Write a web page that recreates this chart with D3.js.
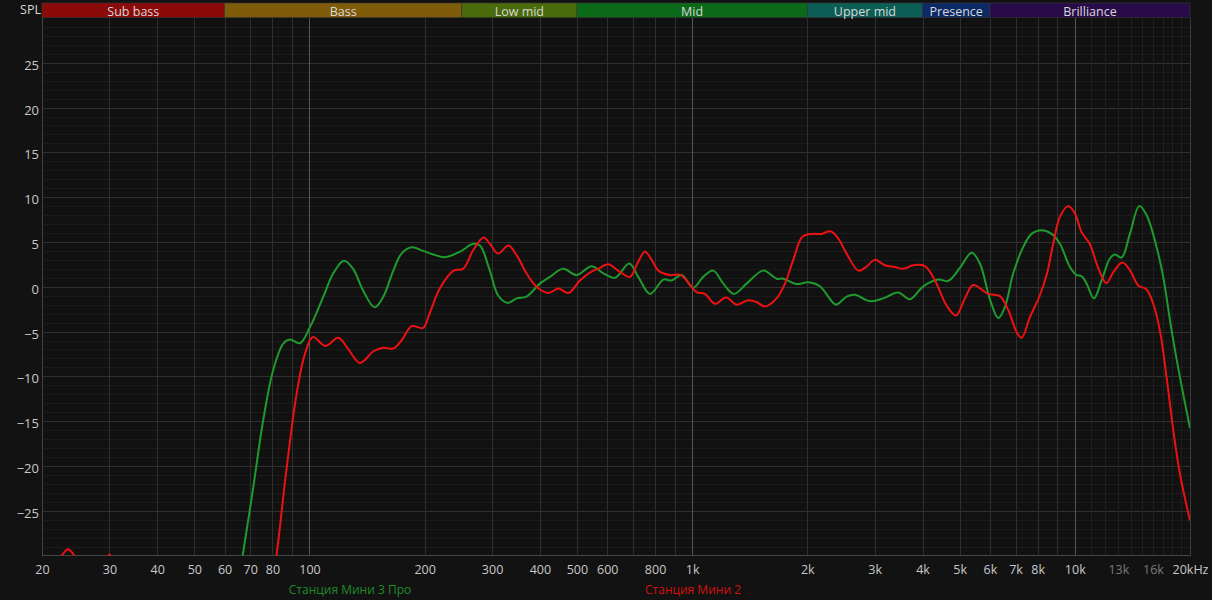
<!DOCTYPE html>
<html>
<head>
<meta charset="utf-8">
<script src="https://cdn.jsdelivr.net/npm/d3@7"></script>
<style>
  html, body { margin: 0; padding: 0; background: #121212; }
  svg { display: block; }
  text { font-family: "Open Sans", "Noto Sans", sans-serif; }
</style>
</head>
<body>
<svg id="chart" width="1212" height="600"></svg>
<script>
// ---------------- DATA ----------------
const bandNames = ["Sub bass", "Bass", "Low mid", "Mid", "Upper mid", "Presence", "Brilliance"];
const bandStart = [20, 60, 250, 500, 2000, 4000, 6000];
const bandEnd   = [60, 250, 500, 2000, 4000, 6000, 20000];

const xTickValues = [20,30,40,50,60,70,80,100,200,300,400,500,600,800,1000,2000,3000,4000,5000,6000,7000,8000,10000,13000,16000,20000];
const xTickLabels = ["20","30","40","50","60","70","80","100","200","300","400","500","600","800","1k","2k","3k","4k","5k","6k","7k","8k","10k","13k","16k","20kHz"];
const xTickDim    = [13000, 16000];
const xGridMajor  = [20,30,40,50,60,70,80,90,100,200,300,400,500,600,700,800,900,1000,2000,3000,4000,5000,6000,7000,8000,9000,10000,20000];
const xGridMinor  = [11000,12000,13000,14000,15000,16000,17000,18000,19000];
const xGridBright = [100, 1000, 10000];
const yTickValues = [-25,-20,-15,-10,-5,0,5,10,15,20,25];

const seriesNames = ["Станция Мини 3 Про", "Станция Мини 2"];

const greenFreq = [60,64,66.9,71.3,75.7,80.4,85.4,88.9,94.5,100.3,108.7,115.4,123,130,138,148,156,165.6,174,185,198,210.6,226,247,268,279,296,311,329,348,369,400,425,460,499,546,586,629,685,723,776,841,884,939,1006,1069,1135,1206,1286,1388,1534,1662,1729,1875,2010,2158,2268,2376,2533,2662,2915,3158,3456,3707,4018,4397,4668,5008,5376,5650,6000,6310,6568,6905,7333,7710,8187,8693,9140,9711,10106,10414,10733,11220,11749,12350,12728,13248,13932,14734,15400,16354,17022,17908,18826,20000];
const greenDb   = [-40,-35,-30,-22.4,-14.9,-9.3,-6.35,-5.9,-6.3,-4.5,-1.1,1.5,2.9,2.0,-0.4,-2.3,-1.1,1.8,3.7,4.4,4.0,3.6,3.3,3.9,4.8,4.6,1.8,-0.95,-1.8,-1.3,-1.1,0.35,1.1,2.0,1.3,2.3,1.5,1.0,2.6,1.1,-0.8,0.8,0.7,1.3,-0.1,1.1,1.8,0.35,-0.8,0.35,1.8,0.9,0.9,0.3,0.5,0.05,-1.1,-2.0,-1.1,-0.9,-1.6,-1.3,-0.65,-1.4,0.05,0.8,0.65,2.1,3.8,2.6,-1.4,-3.5,-2.25,1.5,4.45,5.9,6.3,5.9,4.8,2.2,1.3,1.2,0.35,-1.3,0.7,3.15,3.6,3.25,5.9,9.0,8.0,4.45,1.1,-4.9,-10.1,-15.8];

const redFreq = [20,21.5,22.6,23.4,24.2,25.5,27.5,29,30,31,33,40,60,78,82,87,92.6,97.3,102,110,119,126,135.5,147,156,165.6,174,185,198,206,219,238,252,268,285,296,311,331,348,369,392,421,447,475,509,546,568,603,648,688,719,753,784,816,875,929,967,1027,1080,1147,1226,1307,1401,1474,1550,1662,1748,1838,1944,2072,2178,2300,2408,2533,2718,2846,3004,3190,3388,3562,3782,4058,4311,4624,4890,5162,5426,5940,6372,6700,7046,7262,7634,8106,8438,8782,9140,9612,10004,10414,10940,11488,12080,12624,13304,13932,14646,15400,16030,16688,17370,18086,18826,20000];
const redDb   = [-33,-31,-29.9,-29.3,-29.9,-31.5,-32,-31,-29.9,-31,-33,-37,-38,-36,-30,-20.5,-11.9,-7.5,-5.6,-6.6,-5.7,-6.9,-8.5,-7.2,-6.8,-6.9,-6.0,-4.4,-4.6,-3.0,-0.2,1.8,2.0,4.1,5.5,4.8,3.7,4.6,3.5,1.5,0,-0.7,-0.2,-0.7,0.7,1.7,2.0,2.5,1.65,1.1,2.6,3.9,3.0,1.8,1.3,1.35,0.7,-0.6,-0.8,-1.9,-1.2,-2.0,-1.5,-1.7,-2.2,-1.3,0.35,3.0,5.6,5.9,5.9,6.2,5.4,3.7,1.8,2.2,3.0,2.4,2.2,2.0,2.4,2.3,0.7,-2.1,-3.2,-1.3,0.2,-0.8,-1.05,-2.6,-5.05,-5.7,-3.4,-0.95,1.3,4.8,7.8,9.0,8.2,6.1,4.8,2.2,0.4,1.65,2.7,1.85,0.15,-0.3,-1.9,-4.9,-10.1,-16,-20.9,-26.1];

// ---------------- STYLE ----------------
const bandColors = ["#8b0a0a", "#7e5c09", "#4a6a0b", "#0b6a18", "#0b5e55", "#0b2a66", "#290b4a"];
const seriesColors = ["#1f9a2c", "#ee1111"];
const legendColors = ["#1f8a2a", "#d41010"];

// ---------------- CHART ----------------
const svg = d3.select("#chart");
const L = 42, R = 1190, T = 18, B = 555.5;
const x = d3.scaleLog().domain([20, 20000]).range([L, R]);
const y = d3.scaleLinear().domain([-30, 30]).range([B, T]);

svg.append("rect").attr("width", 1212).attr("height", 600).attr("fill", "#121212");
svg.append("rect").attr("x", L).attr("y", T).attr("width", R - L).attr("height", B - T).attr("fill", "#111111");

// horizontal grid
const g = svg.append("g");
g.selectAll("line.hmin").data(d3.range(-29, 30)).join("line")
  .attr("x1", L).attr("x2", R)
  .attr("y1", d => Math.round(y(d)) + 0.5).attr("y2", d => Math.round(y(d)) + 0.5)
  .attr("stroke", d => d % 5 === 0 ? "#2f2f2f" : "#1b1b1b").attr("stroke-width", 1);

// vertical grid
g.selectAll("line.vmin").data(xGridMinor).join("line")
  .attr("x1", d => Math.round(x(d)) + 0.5).attr("x2", d => Math.round(x(d)) + 0.5)
  .attr("y1", T).attr("y2", B).attr("stroke", "#1f1f1f");
g.selectAll("line.vmaj").data(xGridMajor).join("line")
  .attr("x1", d => Math.round(x(d)) + 0.5).attr("x2", d => Math.round(x(d)) + 0.5)
  .attr("y1", T).attr("y2", B)
  .attr("stroke", d => xGridBright.includes(d) ? "#555555" : "#2e2e2e");

// border
svg.append("line").attr("x1", L + 0.5).attr("x2", L + 0.5).attr("y1", T).attr("y2", B + 1).attr("stroke", "#444");
svg.append("line").attr("x1", L).attr("x2", R + 1).attr("y1", 555.5).attr("y2", 555.5).attr("stroke", "#444");
svg.append("line").attr("x1", R + 0.5).attr("x2", R + 0.5).attr("y1", T).attr("y2", B + 1).attr("stroke", "#3a3a3a");

// band bar
const bands = bandNames.map((n, i) => ({ name: n, s: bandStart[i], e: bandEnd[i], c: bandColors[i] }));
const bg = svg.append("g");
bg.selectAll("rect").data(bands).join("rect")
  .attr("x", d => x(d.s)).attr("width", d => x(d.e) - x(d.s))
  .attr("y", 3).attr("height", 14.5)
  .attr("fill", d => d.c).attr("stroke", "#3a3a3a").attr("stroke-width", 0.6);
bg.selectAll("text").data(bands).join("text")
  .attr("x", d => (x(d.s) + x(d.e)) / 2).attr("y", 15.5)
  .attr("text-anchor", "middle").attr("font-size", 12.5).attr("fill", "#d8d8d8")
  .text(d => d.name);
svg.append("text").attr("x", 41).attr("y", 13.5).attr("text-anchor", "end")
  .attr("font-size", 12.5).attr("fill", "#d8d8d8").text("SPL");

// y axis
const yAxis = svg.append("g").attr("transform", `translate(${L},0)`)
  .call(d3.axisLeft(y).tickValues(yTickValues).tickSize(0).tickPadding(3).tickFormat(d3.format("d")));
yAxis.select(".domain").remove();
yAxis.selectAll("text").attr("font-size", 13).attr("fill", "#c8c8c8").attr("dy", "0.5em")
  .attr("font-family", "'Open Sans', 'Noto Sans', sans-serif");

// x axis
const xAxis = svg.append("g").attr("transform", `translate(0,${B + 7.5})`)
  .call(d3.axisBottom(x).tickValues(xTickValues).tickSize(0).tickPadding(2)
    .tickFormat((d) => xTickLabels[xTickValues.indexOf(d)]));
xAxis.select(".domain").remove();
xAxis.selectAll("text").attr("font-size", 12.5)
  .attr("fill", d => xTickDim.includes(d) ? "#7a7a7a" : "#c8c8c8")
  .attr("font-family", "'Open Sans', 'Noto Sans', sans-serif");

// curves
svg.append("clipPath").attr("id", "plotclip").append("rect")
  .attr("x", L + 1).attr("y", T).attr("width", R - L - 1).attr("height", B - T);
const line = d3.line().x(d => x(d[0])).y(d => y(d[1])).curve(d3.curveCatmullRom.alpha(0.5));
const series = [
  d3.zip(greenFreq, greenDb),
  d3.zip(redFreq, redDb)
];
svg.append("g").attr("clip-path", "url(#plotclip)")
  .selectAll("path").data(series).join("path")
  .attr("d", line).attr("fill", "none")
  .attr("stroke", (d, i) => seriesColors[i]).attr("stroke-width", 2)
  .attr("stroke-linejoin", "round");

// legend
const legendX = [350, 693];
svg.selectAll("text.legend").data(seriesNames).join("text")
  .attr("class", "legend")
  .attr("x", (d, i) => legendX[i]).attr("y", 593.5)
  .attr("text-anchor", "middle").attr("font-size", 12)
  .attr("fill", (d, i) => legendColors[i]).text(d => d);
</script>
</body>
</html>
